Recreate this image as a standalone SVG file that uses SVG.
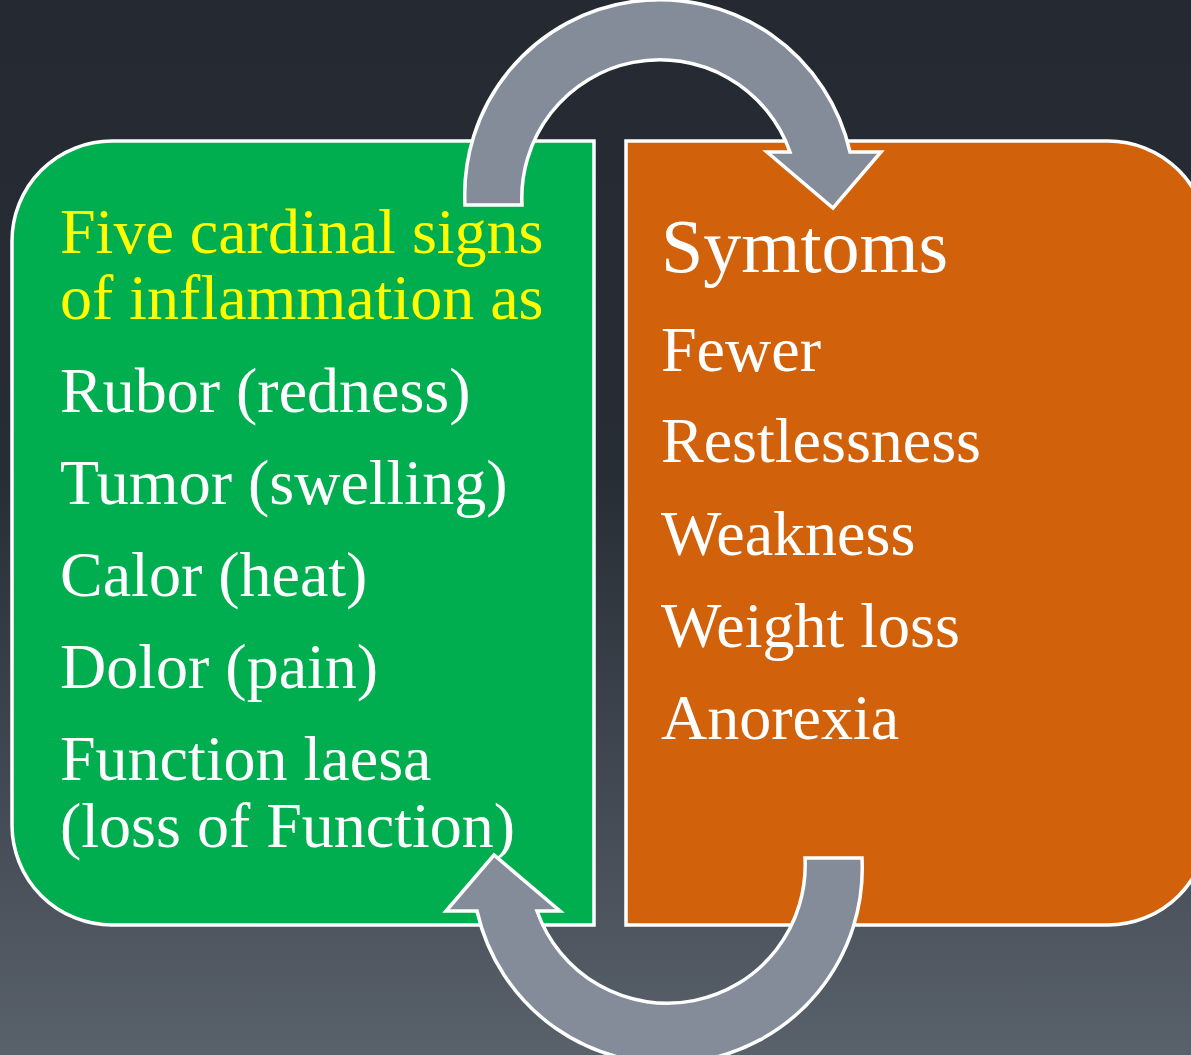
<svg xmlns="http://www.w3.org/2000/svg" width="1191" height="1055" viewBox="0 0 1191 1055">
<defs>
<linearGradient id="bg" x1="0" y1="0" x2="0" y2="1">
<stop offset="0" stop-color="#252a32"/>
<stop offset="0.45" stop-color="#272d35"/>
<stop offset="1" stop-color="#59616b"/>
</linearGradient>
<style>
.box{stroke:#ffffff;stroke-width:3.5}
.arrow{fill:#848c9a;stroke:#ffffff;stroke-width:3.5;stroke-linejoin:miter}
text{font-family:"Liberation Serif","Times New Roman",serif;font-size:64px;fill:#ffffff}
.hl{fill:#ffff00}
.title{font-size:76px}
</style>
</defs>
<rect x="0" y="0" width="1191" height="1055" fill="url(#bg)"/>
<g id="signs">
<path class="box" fill="#00ae50" d="M112 141 H594 V925 H112 A100 100 0 0 1 12 825 V241 A100 100 0 0 1 112 141 Z"/>
<text class="hl" x="60" y="253">Five cardinal signs</text>
<text class="hl" x="60" y="319">of inflammation as</text>
<text x="60" y="412">Rubor (redness)</text>
<text x="60" y="504">Tumor (swelling)</text>
<text x="60" y="596">Calor (heat)</text>
<text x="60" y="688">Dolor (pain)</text>
<text x="60" y="780">Function laesa</text>
<text x="60" y="847">(loss of Function)</text>
</g>
<g id="symptoms">
<path class="box" fill="#d1620b" d="M626 141 H1108 A100 100 0 0 1 1208 241 V825 A100 100 0 0 1 1108 925 H626 Z"/>
<text class="title" x="661" y="272">Symtoms</text>
<text x="661" y="371">Fewer</text>
<text x="661" y="462">Restlessness</text>
<text x="661" y="555">Weakness</text>
<text x="661" y="647">Weight loss</text>
<text x="661" y="739">Anorexia</text>
</g>
<g id="connectors">
<path id="arrowTop" class="arrow" d="M465 205 A195 195 0 0 1 850 152 L881 152 L833 208 L767 152 L790 152 A138 138 0 0 0 522 205 Z"/>
<path id="arrowBottom" class="arrow" transform="rotate(180 663.5 531.5)" d="M465 205 A195 195 0 0 1 850 152 L881 152 L833 208 L767 152 L790 152 A138 138 0 0 0 522 205 Z"/>
</g>
</svg>
